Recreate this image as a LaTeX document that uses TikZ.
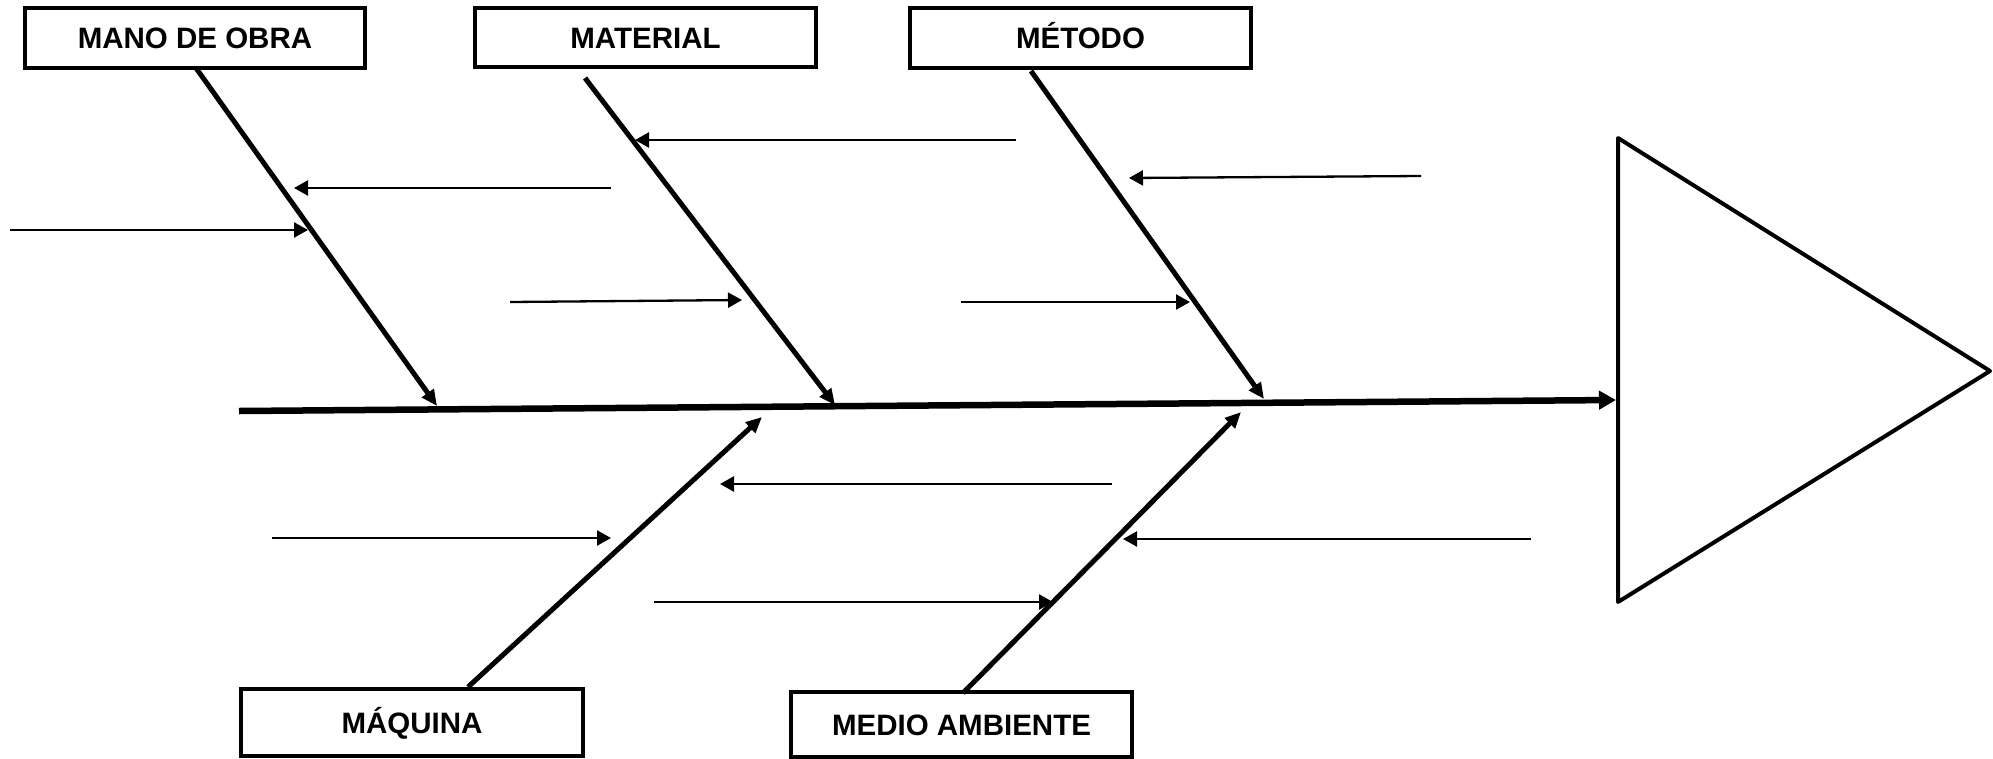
\documentclass[tikz,border=0pt]{standalone}
\usepackage{fontspec}
\setmainfont{Liberation Sans}
\newfontfamily\labelfont{Liberation Sans}[BoldFont=Liberation Sans Bold]
\usetikzlibrary{arrows.meta}

\tikzset{
  catbox/.style={draw, line width=4.5pt, inner sep=0pt, align=center,
    text height=21.5pt, text depth=0pt,
    font=\labelfont\bfseries\fontsize{29.5}{33}\selectfont},
  bone/.style={line width=5pt, -{Triangle[length=16pt,width=14pt]}},
  spine/.style={line width=6.5pt, -{Triangle[length=17pt,width=18pt]}},
  twig/.style={line width=2.3pt, -{Triangle[length=14pt,width=15pt]}},
  head/.style={line width=4pt, line join=round}
}

\begin{document}
\begin{tikzpicture}[x=1pt, y=-1pt]
  \useasboundingbox (0,0) rectangle (1993,758);

  % category boxes
  \node[catbox, minimum width=340pt, minimum height=60pt] (mano) at (195,38) {MANO DE OBRA};
  \node[catbox, minimum width=341pt, minimum height=59pt] (material) at (645.5,37.5) {MATERIAL};
  \node[catbox, minimum width=341pt, minimum height=60pt] (metodo) at (1080.5,38) {MÉTODO};
  \node[catbox, minimum width=342pt, minimum height=67pt] (maquina) at (412,722.5) {MÁQUINA};
  \node[catbox, minimum width=341pt, minimum height=65pt] (medio) at (961.5,724.5) {MEDIO AMBIENTE};

  % spine and effect head
  \coordinate (tail) at (239,411);
  \coordinate (front) at (1616,400);
  \coordinate (h1) at (1618,138);
  \coordinate (h2) at (1990,371);
  \coordinate (h3) at (1618,602);
  \draw[spine] (tail) -- (front);
  \draw[head] (h1) -- (h2) -- (h3) -- cycle;

  % main bones
  \coordinate (manoA) at (196,68);     \coordinate (manoB) at (437,406);
  \coordinate (matA) at (585,78);      \coordinate (matB) at (835,405);
  \coordinate (metA) at (1031,71);     \coordinate (metB) at (1264,399);
  \coordinate (maqA) at (468,687);     \coordinate (maqB) at (762,417);
  \coordinate (medA) at (963,693);     \coordinate (medB) at (1241,412);
  \draw[bone] (manoA) -- (manoB);
  \draw[bone] (matA) -- (matB);
  \draw[bone] (metA) -- (metB);
  \draw[bone] (maqA) -- (maqB);
  \draw[bone] (medA) -- (medB);

  % secondary causes
  \coordinate (t1a) at (611,188);  \coordinate (t1b) at (294,188);
  \coordinate (t2a) at (10,230);   \coordinate (t2b) at (308,230);
  \coordinate (t3a) at (1016,140); \coordinate (t3b) at (635,140);
  \coordinate (t4a) at (510,302);  \coordinate (t4b) at (742,300);
  \coordinate (t5a) at (1421,176); \coordinate (t5b) at (1129,178);
  \coordinate (t6a) at (961,302);  \coordinate (t6b) at (1190,302);
  \coordinate (t7a) at (1112,484); \coordinate (t7b) at (720,484);
  \coordinate (t8a) at (272,538);  \coordinate (t8b) at (611,538);
  \coordinate (t9a) at (1531,539); \coordinate (t9b) at (1123,539);
  \coordinate (t10a) at (654,602); \coordinate (t10b) at (1053,602);
  \foreach \i in {1,...,10} {
    \draw[twig] (t\i a) -- (t\i b);
  }
\end{tikzpicture}
\end{document}
